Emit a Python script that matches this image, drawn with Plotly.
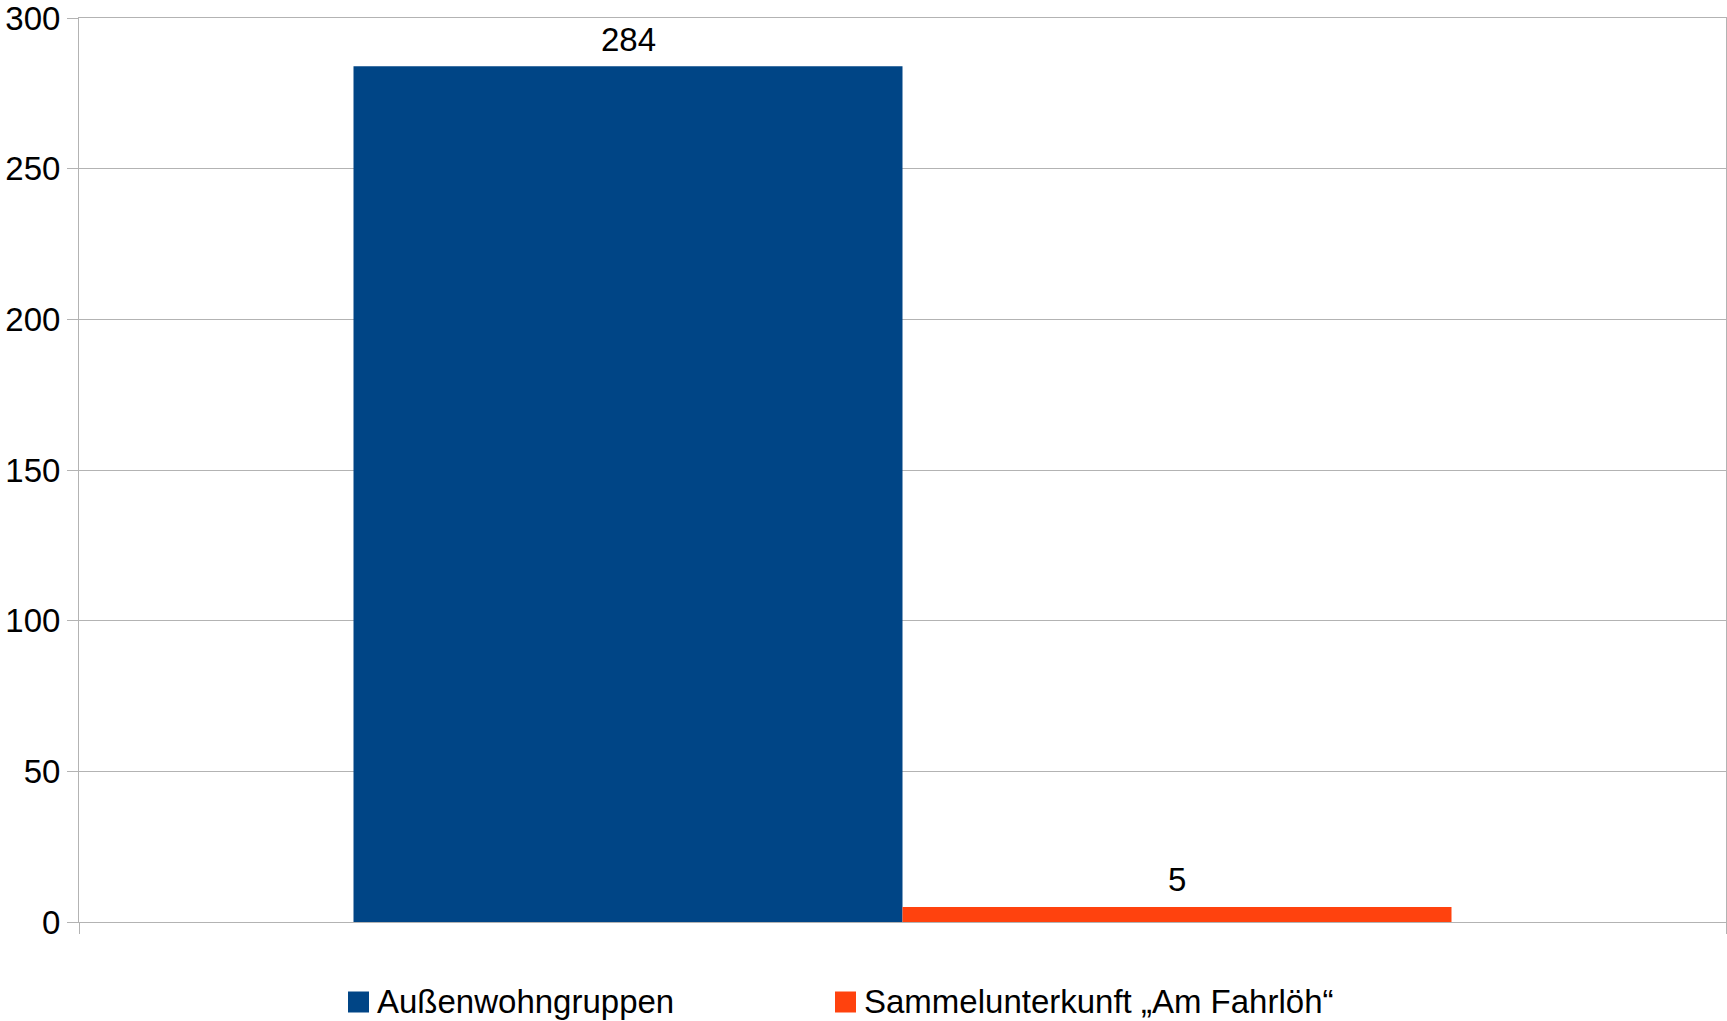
import plotly.graph_objects as go

# Data
categories = ["Bewohner"]
series_names = ["Außenwohngruppen", "Sammelunterkunft „Am Fahrlöh“"]
series_values = [[284], [5]]
series_colors = ["#004586", "#ff420e"]
y_ticks = [0, 50, 100, 150, 200, 250, 300]

FONT = "Liberation Sans, Arial, sans-serif"
FS = 33
W, H = 1727, 1021
ML, MR, MT, MB = 79, 1, 18, 99
BARGAP = 1 / 3

fig = go.Figure()
for name, vals, col in zip(series_names, series_values, series_colors):
    fig.add_trace(go.Bar(
        x=categories, y=vals, name=name, marker=dict(color=col, line=dict(width=0)),
        showlegend=False,
    ))

# Data labels above bars (centered over each grouped bar)
n = len(series_names)
bw = (1 - BARGAP) / n
for j, vals in enumerate(series_values):
    off = -(1 - BARGAP) / 2 + bw * (j + 0.5)
    for i, v in enumerate(vals):
        fig.add_annotation(x=i + off, y=v, xref="x", yref="y", text=str(v),
                           showarrow=False, xanchor="center", yanchor="middle",
                           yshift=27, font=dict(family=FONT, size=FS, color="#000000"))

grid = "#b3b3b3"
fig.update_layout(
    width=W, height=H,
    margin=dict(l=ML, r=MR, t=MT, b=MB),
    paper_bgcolor="white", plot_bgcolor="white",
    barmode="group", bargap=BARGAP, bargroupgap=0,
    font=dict(family=FONT, size=FS, color="#000000"),
    xaxis=dict(
        type="category", range=[-0.5, 0.5], tickson="boundaries",
        ticks="outside", ticklen=11, tickcolor=grid, tickwidth=1,
        showticklabels=False, showline=True, linecolor=grid, linewidth=1,
        mirror=True, showgrid=False, zeroline=False,
    ),
    yaxis=dict(
        range=[0, 300], tickvals=y_ticks, ticktext=[str(v) for v in y_ticks],
        ticks="outside", ticklen=11, tickcolor=grid, tickwidth=1,
        showline=True, linecolor=grid, linewidth=1, mirror=True,
        showgrid=True, gridcolor=grid, gridwidth=1, zeroline=False,
        tickfont=dict(family=FONT, size=FS, color="#000000"),
        ticklabelstandoff=0, ticklabeloverflow="allow",
    ),
)

# Manual legend (large square swatches like the original)
pw = W - ML - MR
ph = H - MT - MB
legend_x = [348, 835]
sq = 21
legend_cy = 1002
for name, col, lx in zip(series_names, series_colors, legend_x):
    x0 = (lx - ML) / pw
    x1 = (lx + sq - ML) / pw
    y0 = (H - MB - (legend_cy - sq / 2)) / ph
    y1 = (H - MB - (legend_cy + sq / 2)) / ph
    fig.add_shape(type="rect", xref="paper", yref="paper", x0=x0, x1=x1, y0=y0, y1=y1,
                  fillcolor=col, line=dict(width=0))
    fig.add_annotation(xref="paper", yref="paper", x=(lx + sq + 6 - ML) / pw,
                       y=(H - MB - legend_cy) / ph, text=name, showarrow=False,
                       xanchor="left", yanchor="middle",
                       font=dict(family=FONT, size=FS, color="#000000"))

fig.write_html(
    "out.html",
    config={"displayModeBar": False},
    post_script="document.body.style.margin='0';document.body.style.overflow='hidden';",
)
